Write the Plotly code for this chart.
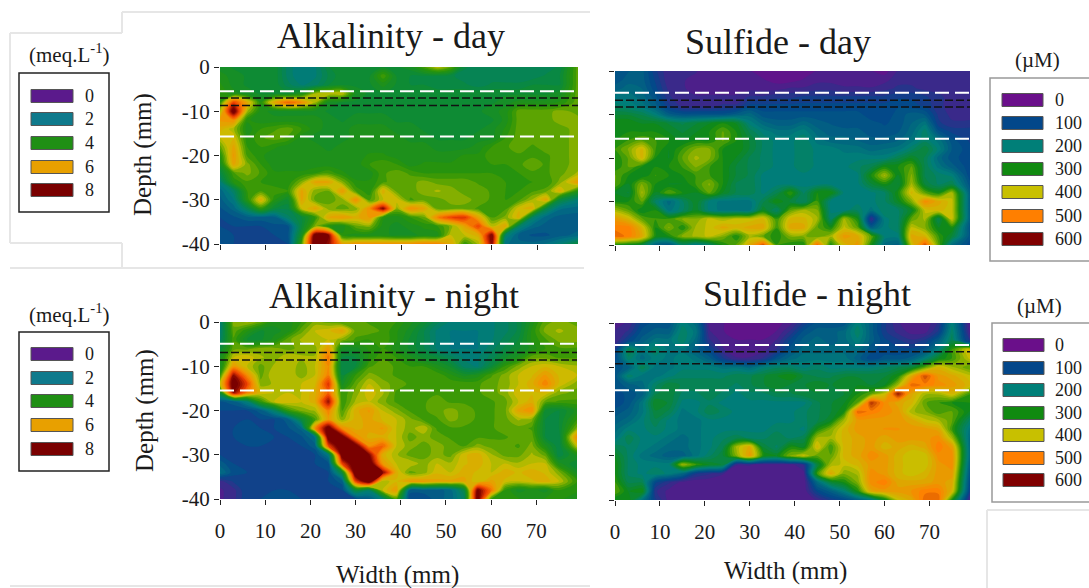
import numpy as np
import plotly.graph_objects as go

WIDTH_MM = [0,3,6,9,12,15,18,21,24,27,30,33,36,39,42,45,48,51,54,57,60,63,66,69,72,75,79]
DEPTH_MM = [0,-2,-4,-6,-8,-10,-12,-14,-16,-18,-20,-22,-24,-26,-28,-30,-32,-34,-36,-38,-40]

# alkalinity in tenths of meq/L
ALK_DAY = [
[34,32,32,32,32,24,20,22,30,32,32,32,32,32,34,42,50,44,28,26,26,26,26,26,26,28,44],
[36,34,32,32,32,24,20,22,28,32,32,32,42,32,30,30,30,28,26,26,26,26,26,26,28,30,44],
[38,34,32,32,32,26,22,24,30,32,32,32,36,32,30,30,28,28,28,26,28,28,28,30,30,30,44],
[40,36,34,32,32,32,36,48,50,50,34,32,32,32,32,32,32,32,32,32,32,32,32,32,32,34,44],
[40,70,55,38,56,66,60,48,34,32,32,32,32,32,32,32,32,32,32,32,32,34,36,36,36,38,44],
[48,85,48,36,34,34,34,34,32,32,32,32,32,32,32,32,32,32,32,32,34,36,44,44,44,46,44],
[58,60,38,36,36,36,36,36,34,32,34,34,34,32,32,32,32,32,32,32,32,36,44,44,44,46,46],
[54,48,36,40,42,44,40,36,34,34,36,36,36,34,34,32,32,32,32,32,34,38,44,44,44,44,46],
[50,52,38,42,44,42,36,34,34,34,36,36,36,36,34,34,32,32,32,34,34,40,44,44,44,44,46],
[44,56,40,40,38,36,36,36,34,36,36,36,36,36,36,36,34,34,34,36,40,42,44,42,44,44,46],
[38,58,42,38,36,36,36,36,36,36,36,38,38,36,36,36,36,36,38,38,42,42,42,42,42,44,46],
[34,56,46,40,36,36,36,36,36,36,36,40,42,40,36,38,38,38,38,40,40,40,42,44,42,44,46],
[28,42,46,42,38,38,38,40,42,38,36,36,42,44,42,40,40,40,40,40,40,40,40,42,42,44,48],
[22,38,42,40,38,38,46,56,56,46,38,38,42,44,44,46,44,44,44,42,42,40,40,40,40,46,58],
[16,24,40,42,42,40,56,46,45,58,42,38,54,44,44,46,48,46,44,44,42,40,40,42,44,54,38],
[14,20,38,54,38,32,56,44,44,46,60,42,50,52,42,44,44,46,46,44,42,40,42,48,56,30,22],
[12,16,26,40,30,28,50,56,46,44,46,60,80,46,60,56,44,44,44,42,42,42,52,54,28,18,16],
[10,12,14,14,14,24,30,40,56,58,54,58,38,36,40,44,62,70,72,56,42,46,54,24,16,14,14],
[10,10,10,10,12,12,30,46,38,36,44,46,36,34,36,38,40,46,56,70,50,56,24,16,14,14,14],
[12,10,10,10,10,12,34,85,80,38,36,36,36,34,34,36,36,50,50,54,82,24,14,12,12,14,16],
[12,10,10,10,10,10,42,88,78,58,60,60,60,60,60,62,62,56,40,48,80,18,16,16,18,22,30],
]
ALK_NIGHT = [
[22,46,48,44,36,36,40,46,44,42,44,42,42,40,36,32,26,22,22,22,22,24,28,36,44,46,44],
[22,44,38,32,34,36,44,50,52,56,44,44,42,38,34,28,22,20,20,20,22,24,28,38,46,48,46],
[24,42,32,32,36,44,48,50,50,46,42,40,42,38,32,28,22,20,20,20,22,26,30,38,42,46,46],
[30,44,44,46,46,44,46,46,58,34,34,38,40,36,32,28,22,20,20,20,24,28,32,36,40,42,42],
[34,50,52,48,46,50,48,48,64,30,30,38,42,40,36,32,30,26,22,22,26,32,36,44,44,42,42],
[34,58,50,44,48,50,46,50,60,28,30,42,44,42,40,40,36,32,24,22,30,40,46,50,52,50,48],
[40,78,60,44,50,50,46,50,62,30,40,46,44,42,42,42,42,38,34,36,42,46,50,52,58,52,50],
[50,85,70,46,48,50,50,52,72,34,44,50,46,44,42,42,42,42,42,42,44,46,50,54,62,52,46],
[32,78,62,52,50,50,50,54,66,40,46,52,48,42,42,42,42,42,42,42,44,46,52,52,52,46,44],
[12,14,22,40,50,52,50,54,78,40,48,50,46,42,40,42,44,42,42,42,42,44,50,54,44,42,42],
[10,10,10,14,24,40,46,48,62,42,54,58,50,46,42,42,44,46,44,42,42,44,56,60,32,30,36],
[10,10,10,10,10,14,30,42,58,46,54,56,52,50,46,42,42,46,44,42,42,44,48,46,30,30,40],
[10,10,11,10,10,12,16,60,85,60,54,56,58,50,46,50,42,42,42,42,42,44,44,42,30,30,46],
[10,10,12,11,10,10,12,18,85,85,60,54,54,50,44,46,44,42,42,42,42,42,44,44,30,28,60],
[10,10,10,10,10,10,10,14,70,88,85,60,66,50,46,44,46,44,42,46,44,44,42,46,36,28,50],
[10,10,10,10,10,10,10,10,20,85,88,80,54,48,44,44,46,44,52,54,48,44,44,48,44,28,36],
[14,10,10,10,10,10,10,10,12,70,88,88,58,50,50,46,50,48,52,54,50,50,48,50,50,36,30],
[18,11,10,10,10,10,10,10,10,30,88,88,80,54,44,46,52,50,54,52,50,54,52,54,52,46,34],
[4,8,10,10,10,10,10,10,10,14,70,88,48,52,58,58,56,56,56,50,56,52,50,52,54,50,40],
[2,4,10,10,10,10,10,10,10,10,30,24,50,58,14,14,14,16,28,82,64,40,34,36,34,40,38],
[2,4,10,10,12,12,10,10,10,10,10,14,22,42,10,10,14,16,24,85,40,40,38,36,38,38,36],
]
# sulfide in tens of uM
SUL_DAY = [
[12,13,14,8,4,4,4,2,2,2,2,1,0,0,1,2,3,3,3,2,1,4,4,4,4,4,4],
[12,14,14,9,4,4,3,2,2,3,2,2,1,1,2,3,3,3,3,2,3,5,5,5,5,5,5],
[14,16,15,10,5,4,3,3,3,3,3,3,3,4,4,5,5,4,4,4,5,6,6,5,5,5,5],
[18,18,16,12,6,4,4,4,4,4,6,6,7,7,8,8,8,8,8,8,8,9,9,8,6,5,5],
[22,20,18,14,8,5,5,5,6,6,10,10,10,10,10,10,10,10,10,10,10,11,10,9,6,5,5],
[26,26,24,20,14,12,12,12,12,14,16,12,12,12,12,12,12,12,12,10,10,12,14,13,7,5,5],
[30,30,28,28,26,24,26,28,30,28,20,16,14,14,16,14,13,12,12,12,11,12,15,18,8,6,6],
[30,30,30,30,28,26,28,30,34,30,24,20,18,18,20,16,14,14,14,12,12,13,16,22,12,9,9],
[30,32,34,32,30,28,30,30,34,30,26,22,20,20,22,18,16,16,15,14,14,15,18,22,18,12,9],
[32,36,42,32,28,32,36,36,30,30,26,22,20,20,22,20,20,18,18,16,17,18,22,26,20,13,10],
[30,34,42,30,28,34,38,36,30,28,24,22,20,20,22,20,20,20,20,20,20,24,28,24,16,12,10],
[30,34,30,30,30,32,36,32,30,26,24,22,20,20,22,20,20,20,22,24,30,30,34,24,18,14,10],
[34,30,28,32,30,30,32,32,30,26,24,20,20,20,20,20,20,20,20,30,38,28,36,24,22,20,10],
[34,28,36,30,28,28,32,36,30,24,24,20,20,20,20,20,20,20,20,26,30,26,38,26,22,24,12],
[28,26,38,28,34,30,28,34,28,24,24,20,24,32,22,30,30,20,20,20,22,30,42,34,30,38,14],
[30,30,34,22,16,22,28,20,18,18,18,24,30,26,22,32,20,20,20,20,22,28,36,48,44,40,14],
[38,34,28,30,18,22,28,20,18,18,18,28,22,34,38,36,20,20,22,18,22,22,28,40,42,40,14],
[46,42,34,32,32,36,36,40,38,40,40,42,32,42,42,38,22,38,30,5,20,22,34,38,24,40,14],
[50,50,42,30,36,30,38,40,44,42,44,44,32,44,44,34,30,40,34,14,20,22,40,36,28,30,12],
[52,50,44,30,30,36,38,40,36,30,38,34,30,36,36,34,38,46,44,34,20,20,44,42,32,26,12],
[30,28,26,14,12,22,18,22,30,34,44,54,32,30,30,52,30,42,46,30,16,14,40,54,34,16,10],
]
SUL_NIGHT = [
[3,4,10,12,12,20,16,3,2,1,1,1,1,3,8,12,12,12,20,14,8,4,2,2,6,20,2],
[4,6,12,14,14,22,18,4,2,1,1,1,2,6,12,14,14,16,22,14,8,5,3,3,8,22,3],
[4,10,14,18,18,22,16,6,3,2,2,2,4,10,14,16,14,16,20,14,10,8,6,8,14,24,6],
[8,24,18,22,18,18,14,10,4,2,2,3,6,12,16,16,16,16,16,12,10,10,10,12,20,32,42],
[10,22,16,20,18,20,18,14,8,4,4,6,12,16,18,18,18,18,14,10,12,12,14,20,28,32,40],
[12,14,24,18,18,20,20,20,18,18,16,20,22,22,20,22,20,20,20,20,22,24,26,34,42,38,34],
[12,22,18,18,20,22,22,22,22,24,24,26,28,30,26,24,24,26,26,26,26,30,44,54,46,44,40],
[12,14,16,22,26,24,24,24,24,22,24,26,28,26,26,28,26,28,28,26,28,38,52,50,48,46,42],
[10,12,14,24,26,22,22,24,22,20,22,22,24,24,26,26,26,26,30,34,40,58,44,38,38,42,32],
[10,12,18,28,26,20,20,22,20,20,20,20,20,20,20,24,26,28,34,56,48,44,42,34,32,30,30],
[12,14,18,26,24,18,20,24,22,20,20,20,20,20,22,24,26,30,52,50,48,46,38,36,32,34,28],
[14,16,20,24,20,18,18,20,20,20,20,20,20,20,22,24,28,38,46,46,46,46,44,40,38,34,22],
[16,20,20,22,20,18,18,20,20,20,20,20,22,22,20,30,36,42,46,46,47,47,46,46,44,32,18],
[18,24,20,20,18,16,18,20,22,24,22,22,24,22,24,38,38,42,44,46,44,46,46,46,48,38,16],
[24,22,20,18,16,16,18,20,24,38,44,26,22,30,28,42,32,42,44,46,42,44,42,44,50,46,16],
[28,22,18,16,14,14,18,22,26,36,46,30,28,36,40,34,34,42,44,48,46,42,40,40,48,48,16],
[30,22,20,20,20,38,32,28,26,4,4,3,3,3,6,26,38,40,42,46,46,42,40,40,46,48,14],
[30,22,20,22,20,16,8,6,4,2,2,2,2,2,3,32,44,36,38,48,46,42,40,42,46,46,12],
[32,24,24,10,6,3,2,2,2,2,2,2,2,2,2,16,26,30,36,48,50,44,44,44,46,44,10],
[34,28,30,6,3,2,2,2,2,2,2,2,2,2,2,10,14,20,30,44,46,46,47,50,50,42,8],
[28,30,18,8,3,2,2,2,2,2,2,2,2,2,2,4,8,10,14,18,28,40,44,52,52,30,3],
]

ALK_LABELS = ["0","2","4","6","8"]
ALK_SWATCH = ["#5b1a8c","#0f7a8c","#1f8f14","#e8a000","#7a0000"]
SUL_LABELS = ["0","100","200","300","400","500","600"]
SUL_SWATCH = ["#6a0f8a","#03478a","#007f78","#108a10","#c8c000","#ff7f00","#800000"]

ALK_SCALE = [[0,"#5b1a8c"],[.125,"#06488a"],[.25,"#007a80"],[.375,"#0a8a3a"],[.5,"#2a9408"],
             [.56,"#6aa800"],[.625,"#c8c000"],[.75,"#f59000"],[.875,"#f04000"],[1,"#7a0000"]]
SUL_SCALE = [[0,"#6a0f8a"],[1/6,"#03478a"],[2/6,"#007f78"],[.5,"#108a10"],[.58,"#6aa800"],
             [4/6,"#c8c000"],[5/6,"#ff8000"],[1,"#800000"]]

SERIF = "Liberation Serif"
INK = "#1a1a1a"
FW, FH = 1089, 588
def X(p): return p/FW
def Y(p): return 1-p/FH

fig = go.Figure()
panels = [
 dict(ax="",  z=np.array(ALK_DAY)/10,    cs=ALK_SCALE, zmax=8,   box=(220,578,67,244),  white=[-5.5,-15.7], black=[-7,-8.7],  xl=False, yl=True),
 dict(ax="2", z=np.array(SUL_DAY)*10,    cs=SUL_SCALE, zmax=600, box=(615,970,71,245),  white=[-5,-15.6],   black=[-6.7,-8.3],xl=False, yl=False),
 dict(ax="3", z=np.array(ALK_NIGHT)/10,  cs=ALK_SCALE, zmax=8,   box=(220,577,322,499), white=[-4.9,-15.5], black=[-6.9,-8.6],xl=True,  yl=True),
 dict(ax="4", z=np.array(SUL_NIGHT)*10,  cs=SUL_SCALE, zmax=600, box=(615,970,323,500), white=[-5,-15.2],   black=[-6.5,-9.2],xl=True,  yl=False),
]
shapes, annos = [], []
layout = {}
for p in panels:
    x0,x1,y0,y1 = p["box"]
    fig.add_trace(go.Contour(x=WIDTH_MM, y=DEPTH_MM, z=p["z"], zmin=0, zmax=p["zmax"],
                             colorscale=p["cs"], showscale=False, line=dict(width=0),
                             contours=dict(coloring="fill", start=0, end=p["zmax"], size=p["zmax"]/32),
                             xaxis="x"+p["ax"], yaxis="y"+p["ax"]))
    layout["xaxis"+p["ax"]] = dict(domain=[X(x0),X(x1)], range=[0,79], anchor="y"+p["ax"],
        tickvals=[0,10,20,30,40,50,60,70], showticklabels=p["xl"], ticks="outside", ticklen=5,
        tickcolor="#222", showgrid=False, zeroline=False, showline=False, automargin=False,
        ticklabelstandoff=8, tickfont=dict(family=SERIF,size=21,color=INK))
    layout["yaxis"+p["ax"]] = dict(domain=[Y(y1),Y(y0)], range=[-40,0], anchor="x"+p["ax"],
        tickvals=[0,-10,-20,-30,-40], ticktext=["0","-10","-20","-30","-40"], showticklabels=p["yl"],
        ticks="outside", ticklen=5, tickcolor="#222", showgrid=False, zeroline=False, showline=False, automargin=False,
        tickfont=dict(family=SERIF,size=21,color=INK))
    xref = "x"+p["ax"]; yref = "y"+p["ax"]
    for v in p["black"]:
        shapes.append(dict(type="line",xref=xref,yref=yref,x0=0,x1=79,y0=v,y1=v,
                           line=dict(color="#111",width=1.5,dash="8px,3px")))
    for v in p["white"]:
        shapes.append(dict(type="line",xref=xref,yref=yref,x0=0,x1=79,y0=v,y1=v,
                           line=dict(color="#fff",width=2,dash="14px,6px")))

def text(s,px,py,size,angle=0,anchor="center"):
    annos.append(dict(text=s,x=X(px),y=Y(py),xref="paper",yref="paper",showarrow=False,
                      xanchor=anchor,yanchor="middle",textangle=angle,
                      font=dict(family=SERIF,size=size,color=INK)))
for s,px,py in [("Alkalinity - day",391,36),("Sulfide - day",778,42),
                ("Alkalinity - night",394,296),("Sulfide - night",807,294)]:
    text(s,px,py,36)
text("Depth (mm)",143,155,25,-90); text("Depth (mm)",145,411,25,-90)
text("Width (mm)",397,575,25); text("Width (mm)",785,571,25)

def rect(x0,x1,y0,y1,line,width=1,fill=None):
    shapes.append(dict(type="rect",xref="paper",yref="paper",x0=X(x0),x1=X(x1),y0=Y(y0),y1=Y(y1),
                       line=dict(color=line,width=width),fillcolor=fill or "rgba(0,0,0,0)",layer="below"))
def legend(title,tx,ty,box,sx0,sx1,cy,labels,cols,lx,edge,ew,size):
    text(title,tx,ty,size+2)
    rect(box[0],box[1],box[2],box[3],edge,ew)
    for c,l,yy in zip(cols,labels,cy):
        rect(sx0,sx1,yy-6.5,yy+6.5,"#555",1,c)
        text(l,lx,yy,size-1,0,"left")
legend("(meq.L<sup>-1</sup>)",69,54,(19,109,73,212),31,73,[96,119,143,167,190],ALK_LABELS,ALK_SWATCH,83,"#222",1.5,19)
legend("(meq.L<sup>-1</sup>)",69,313,(19,109,332,471),31,73,[354,378,401,425,449],ALK_LABELS,ALK_SWATCH,83,"#222",1.5,19)
legend("(µM)",1037,60,(990,1095,78,261),1002,1043,[100,123,146,169,192,216,239],SUL_LABELS,SUL_SWATCH,1053,"#999",1.5,19)
legend("(µM)",1039,306,(992,1095,323,502),1003,1044,[345,368,390,413,435,458,480],SUL_LABELS,SUL_SWATCH,1053,"#999",1.5,19)

FRAME = "#e6e6e6"
for a,b,c,d in [(122,590,12,12),(122,122,12,33),(10,122,33,33),(10,10,33,243),(10,122,243,243),
                (122,122,243,268),(10,584,268,268),(987,1089,510,510),(987,987,510,588),(10,590,586,586)]:
    shapes.append(dict(type="line",xref="paper",yref="paper",x0=X(a),x1=X(b),y0=Y(c),y1=Y(d),
                       line=dict(color=FRAME,width=2),layer="below"))

fig.update_layout(width=FW,height=FH,autosize=False,margin=dict(l=0,r=0,t=0,b=0,pad=0,autoexpand=False),
                  paper_bgcolor="white",plot_bgcolor="white",showlegend=False,
                  shapes=shapes,annotations=annos,**layout)
fig.write_html("out.html", config={"displayModeBar":False},
               post_script="document.body.style.margin='0';document.documentElement.style.overflow='hidden';")
